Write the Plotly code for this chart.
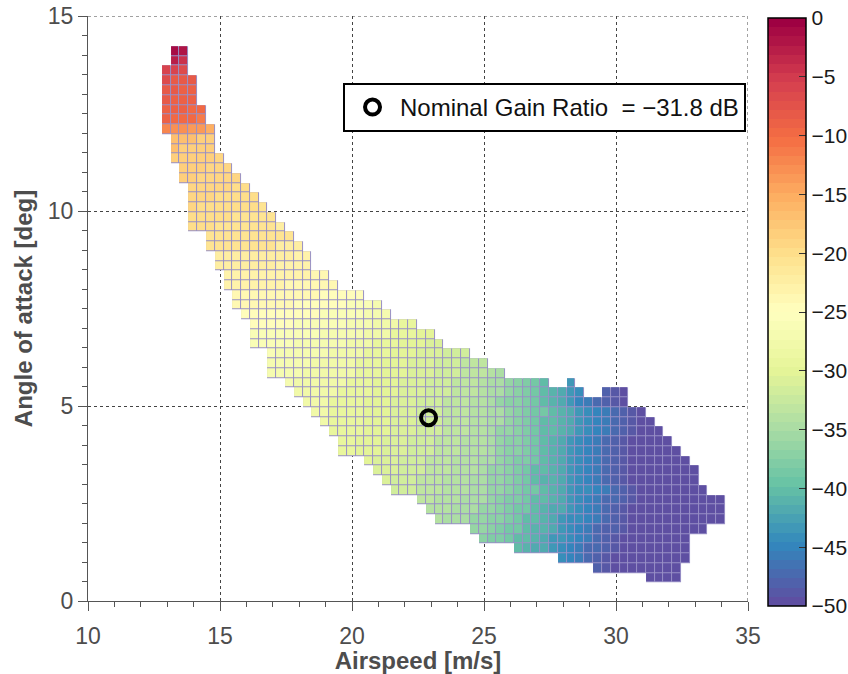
import plotly.graph_objects as go

# ---------------- data ----------------
AIRSPEED_GRID = [12.97, 13.30, 13.63, 13.97, 14.30, 14.63, 14.97, 15.30, 15.63, 15.97,
                 16.30, 16.63, 16.97, 17.30, 17.63, 17.97, 18.30, 18.63, 18.97, 19.30,
                 19.63, 19.97, 20.30, 20.63, 20.97, 21.30, 21.63, 21.97, 22.30, 22.63,
                 22.97, 23.30, 23.63, 23.97, 24.30, 24.63, 24.97, 25.30, 25.63, 25.97,
                 26.30, 26.63, 26.97, 27.30, 27.63, 27.97, 28.30, 28.63, 28.97, 29.30,
                 29.63, 29.97, 30.30, 30.63, 30.97, 31.30, 31.63, 31.97, 32.30, 32.63,
                 32.97, 33.30, 33.63, 33.97]

AOA_GRID_TOP_DOWN = [14.10, 13.85, 13.60, 13.35, 13.10, 12.85, 12.60, 12.35, 12.10, 11.85,
                     11.60, 11.35, 11.10, 10.85, 10.60, 10.35, 10.10, 9.85, 9.60, 9.35,
                     9.10, 8.85, 8.60, 8.35, 8.10, 7.85, 7.60, 7.35, 7.10, 6.85,
                     6.60, 6.35, 6.10, 5.85, 5.60, 5.35, 5.10, 4.85, 4.60, 4.35,
                     4.10, 3.85, 3.60, 3.35, 3.10, 2.85, 2.60, 2.35, 2.10, 1.85,
                     1.60, 1.35, 1.10, 0.85, 0.60]

# index of the first airspeed column filled in each AoA row (top row first)
ROW_FIRST_COL = [1, 1, 0, 0, 0, 0, 0, 0, 0, 1, 1, 1, 2, 2, 3, 3, 3, 3, 3, 5,
                 5, 6, 6, 7, 7, 8, 8, 9, 10, 10, 10, 12, 12, 12, 14, 15, 16, 17, 18, 19,
                 20, 20, 23, 24, 25, 26, 29, 30, 31, 35, 36, 40, 45, 49, 55]

N = None
ROW_VALUES = [
    [-1, -2],
    [-3, -4],
    [-6, -6, -7],
    [-7, -8, -8, -8],
    [-8, -8, -9, -9],
    [-8, -9, -9, -9],
    [-9, -9, -9, -10, -10],
    [-9, -10, -10, -10, -11],
    [-12, -13, -13, -14, -14, -15],
    [-17, -17, -17, -18, -18],
    [-17, -18, -18, -18, -18],
    [-18, -18, -18, -18, -18, -19],
    [-18, -18, -18, -19, -19, -19],
    [-18, -18, -19, -19, -19, -19, -19],
    [-19, -19, -19, -19, -19, -20, -20],
    [-19, -19, -19, -20, -20, -20, -20, -20],
    [-19, -20, -20, -20, -20, -20, -20, -20, -21],
    [-20, -20, -20, -20, -20, -21, -21, -21, -21, -21],
    [-20, -20, -20, -21, -21, -21, -21, -21, -21, -21, -22],
    [-21] * 10,
    [-21] * 8 + [-22] * 3,
    [-22] * 9 + [-23] * 2,
    [-22] * 7 + [-23] * 4,
    [-23] * 10 + [-24] * 2,
    [-23] * 7 + [-24] * 6,
    [-24] * 10 + [-25] * 5,
    [-24] * 7 + [-25] * 6 + [-26] * 3 + [-27],
    [-25] * 9 + [-26] * 5 + [-27] * 3,
    [-25] * 5 + [-26] * 6 + [-27] * 3 + [-28] * 3 + [-29] * 2,
    [-26] * 8 + [-27] * 5 + [-28] * 3 + [-29] * 3 + [-30] * 2,
    [-26] * 5 + [-27] * 6 + [-28] * 3 + [-29] * 3 + [-30] * 3 + [-31] * 2,
    [-26] + [-27] * 6 + [-28] * 4 + [-29] * 3 + [-30] * 3 + [-31] * 3 + [-32] * 3,
    [-27] * 5 + [-28] * 5 + [-29] * 3 + [-30] * 3 + [-31] * 3 + [-32] * 3 + [-33] * 3,
    [-27] * 4 + [-28] * 6 + [-29] * 3 + [-30] * 3 + [-31] * 3 + [-32] * 3 + [-33] * 3 + [-34, -35],
    [-27] + [-28] * 6 + [-29] * 3 + [-30] * 3 + [-31] * 3 + [-32] * 3 + [-33] * 3 + [-34]
    + [-35, -35, -36, -37, -38, -39, -40, N, N, -43],
    [-28] * 5 + [-29] * 4 + [-30] * 3 + [-31] * 3 + [-32] * 3 + [-33] * 3 + [-34]
    + [-35, -35, -36, -37, -38, -39, -40, -41, -42, -43, -44, N, N, -48, -49, -50],
    [-28] * 3 + [-29] * 4 + [-30] * 3 + [-31] * 3 + [-32] * 3 + [-33] * 3 + [-34] * 2
    + [-35, -36, -37, -37, -38, -39, -40, -41, -42, -43, -45, -46, -47, -48, -49, -50],
    [-28] * 2 + [-29] * 4 + [-30] * 3 + [-31] * 3 + [-32] * 3 + [-33] * 3 + [-34] * 2
    + [-35, -35, -36, -37, -38, -39, -39, -40, -41, -42, -43, -44, -45, -46, -47, -48, -49, -50],
    [-28] + [-29] * 4 + [-30] * 3 + [-31] * 3 + [-32] * 3 + [-33] * 3 + [-34] * 2
    + [-35, -35, -36, -37, -38, -39, -40, -40, -41, -42, -43, -44, -45, -46, -47, -48, -49, -50, -50],
    [-29] * 4 + [-30] * 3 + [-31] * 3 + [-32] * 3 + [-33] * 3 + [-34] * 2
    + [-35, -36, -36, -37, -38, -39, -40, -40, -41, -42, -43, -44, -45, -46, -47, -48, -49, -50, -50, -50],
    [-29] * 2 + [-30] * 3 + [-31] * 3 + [-32] * 3 + [-33] * 3 + [-34] * 3
    + [-35, -36, -37, -37, -38, -39, -40, -41, -42, -43, -44, -45, -46, -47, -48, -49] + [-50] * 5,
    [-29] * 2 + [-30] * 3 + [-31] * 3 + [-32] * 3 + [-33] * 3 + [-34] * 3
    + [-35, -36, -37, -37, -38, -39, -40, -41, -42, -43, -44, -45, -46, -47, -48, -49] + [-50] * 6,
    [-30] + [-31] * 3 + [-32] * 3 + [-33] * 3 + [-34] * 3 + [-35]
    + [-35, -36, -37, -38, -38, -39, -40, -41, -42, -43, -44, -45, -46, -47, -48, -49] + [-50] * 7,
    [-31] * 3 + [-32] * 3 + [-33] * 3 + [-34] * 3 + [-35]
    + [-36, -36, -37, -38, -39, -40, -40, -41, -42, -43, -44, -45, -46, -47, -48, -49] + [-50] * 8,
    [-31] + [-32] * 3 + [-33] * 3 + [-34] * 3 + [-35] * 2
    + [-36, -36, -37, -38, -39, -40, -41, -41, -42, -43, -44, -45, -46, -47, -48, -49] + [-50] * 8,
    [-32] * 3 + [-33] * 3 + [-34] * 3 + [-35] * 2
    + [-36, -36, -37, -38, -39, -39, -40, -41, -42, -43, -44, -44, -45, -46, -47, -48, -49] + [-50] * 8,
    [-33, -33, -34, -34, -34, -35, -35, -35]
    + [-36, -37, -38, -38, -39, -40, -40, -41, -42, -43, -44, -45, -46, -47, -47, -48, -49] + [-50] * 10,
    [-34, -34, -34, -35, -35, -35, -36]
    + [-36, -37, -38, -39, -39, -40, -41, -42, -42, -43, -44, -45, -46, -47, -48, -49] + [-50] * 11,
    [-34, -35, -35, -35, -36, -36]
    + [-37, -37, -38, -39, -40, -40, -41, -42, -43, -44, -44, -45, -46, -47, -48, -49] + [-50] * 11,
    [-36, -36, -37, -38, -39, -39, -40, -41, -41, -42, -43, -44, -45, -46, -47, -48, -48, -49] + [-50] * 9,
    [-37, -38, -38, -39, -40, -40, -41, -42, -43, -43, -44, -45, -46, -47, -48, -49] + [-50] * 8,
    [-40, -41, -42, -42, -43, -44, -45, -46, -47, -47, -48, -49] + [-50] * 8,
    [-44, -45, -46, -47, -48, -49] + [-50] * 9,
    [-48, -49] + [-50] * 8,
    [-50, -50, -50, -50],
]

NOMINAL_AIRSPEED = 22.9
NOMINAL_AOA = 4.7
NOMINAL_GAIN_DB = -31.8

X_TICKS = [10, 15, 20, 25, 30, 35]
Y_TICKS = [0, 5, 10, 15]
COLORBAR_TICKS = [0, -5, -10, -15, -20, -25, -30, -35, -40, -45, -50]

# ---------------- build grid ----------------
ncols = len(AIRSPEED_GRID)
z_top_down = []
for start, vals in zip(ROW_FIRST_COL, ROW_VALUES):
    row = [None] * ncols
    for i, v in enumerate(vals):
        row[start + i] = v
    z_top_down.append(row)
z = z_top_down[::-1]
aoa = AOA_GRID_TOP_DOWN[::-1]
mask = [[0 if v is not None else None for v in r] for r in z]

# 64-level Spectral colormap (purple = -50 dB, dark red = 0 dB)
SPECTRAL_R = ['#5e4fa2', '#3288bd', '#66c2a5', '#abdda4', '#e6f598', '#ffffbf',
              '#fee08b', '#fdae61', '#f46d43', '#d53e4f', '#9e0142']


def hex2rgb(h):
    h = h.lstrip('#')
    return [int(h[i:i + 2], 16) for i in (0, 2, 4)]


def sample(t):
    p = t * (len(SPECTRAL_R) - 1)
    i = min(int(p), len(SPECTRAL_R) - 2)
    f = p - i
    a, b = hex2rgb(SPECTRAL_R[i]), hex2rgb(SPECTRAL_R[i + 1])
    c = [round(a[j] + (b[j] - a[j]) * f) for j in range(3)]
    return 'rgb(%d,%d,%d)' % tuple(c)


LEVELS = 64
colorscale = []
for i in range(LEVELS):
    c = sample(i / (LEVELS - 1))
    colorscale.append([i / LEVELS, c])
    colorscale.append([(i + 1) / LEVELS, c])

FONT = 'Liberation Sans, Arial, sans-serif'
AX_COLOR = '#555555'
TXT_COLOR = '#4d4d4d'

fig = go.Figure()

# edge layer (lavender cell outlines)
fig.add_trace(go.Heatmap(
    x=AIRSPEED_GRID, y=aoa, z=mask,
    colorscale=[[0, '#9890c6'], [1, '#9890c6']],
    showscale=False, hoverinfo='skip', showlegend=False,
))

fig.add_trace(go.Heatmap(
    x=AIRSPEED_GRID, y=aoa, z=z,
    zmin=-50, zmax=0, colorscale=colorscale,
    xgap=1, ygap=1, showlegend=False,
    colorbar=dict(
        x=1.03, xanchor='left', xpad=0,
        y=0.494, yanchor='middle', ypad=0,
        len=1.005, lenmode='fraction',
        thickness=38, thicknessmode='pixels',
        outlinecolor='black', outlinewidth=1.5,
        tickvals=COLORBAR_TICKS, ticks='inside', ticklen=7,
        tickcolor='#333333', tickwidth=1,
        tickfont=dict(family=FONT, size=21, color='#1a1a1a'),
    ),
))

fig.add_trace(go.Scatter(
    x=[NOMINAL_AIRSPEED], y=[NOMINAL_AOA], mode='markers',
    marker=dict(symbol='circle-open', size=15, color='black',
                line=dict(width=4, color='black')),
    name='Nominal Gain Ratio\u00a0 = \u2212%.1f dB' % abs(NOMINAL_GAIN_DB),
    showlegend=True,
))

fig.update_layout(
    width=848, height=674,
    margin=dict(l=88, r=100, t=16, b=73, autoexpand=False),
    paper_bgcolor='white', plot_bgcolor='white',
    font=dict(family=FONT, size=22, color=TXT_COLOR),
    showlegend=True,
    legend=dict(x=0.997, xanchor='right', y=0.8855, yanchor='top',
                bgcolor='white', bordercolor='black', borderwidth=2,
                itemwidth=45,
                font=dict(family=FONT, size=24, color='#111111')),
)

# dotted grid lines along the top and right limits
fig.add_shape(type='line', xref='x', yref='y', x0=X_TICKS[0], x1=X_TICKS[-1],
              y0=Y_TICKS[-1], y1=Y_TICKS[-1], layer='below',
              line=dict(color='#444444', width=1, dash='dot'))
fig.add_shape(type='line', xref='x', yref='y', x0=X_TICKS[-1], x1=X_TICKS[-1],
              y0=Y_TICKS[0], y1=Y_TICKS[-1], layer='below',
              line=dict(color='#444444', width=1, dash='dot'))

fig.update_xaxes(
    range=[10, 35], tickvals=X_TICKS, ticks='outside', ticklen=9, tickwidth=1,
    tickcolor=AX_COLOR, showline=True, linecolor=AX_COLOR, linewidth=1,
    showgrid=True, gridcolor='#444444', griddash='dot', gridwidth=1,
    zeroline=False, tickfont=dict(size=23, color=TXT_COLOR), ticklabelstandoff=5,
    minor=dict(dtick=1, ticks='outside', ticklen=5, tickcolor=AX_COLOR, showgrid=False),
    title=dict(text='<b>Airspeed [m/s]</b>', font=dict(size=24, color=TXT_COLOR), standoff=4),
)
fig.update_yaxes(
    range=[0, 15], tickvals=Y_TICKS, ticks='outside', ticklen=9, tickwidth=1,
    tickcolor=AX_COLOR, showline=True, linecolor=AX_COLOR, linewidth=1,
    showgrid=True, gridcolor='#444444', griddash='dot', gridwidth=1,
    zeroline=False, tickfont=dict(size=23, color=TXT_COLOR),
    minor=dict(dtick=0.5, ticks='outside', ticklen=5, tickcolor=AX_COLOR, showgrid=False),
    title=dict(text='<b>Angle of attack [deg]</b>', font=dict(size=24, color=TXT_COLOR), standoff=8),
)

fig.write_html('out.html')
